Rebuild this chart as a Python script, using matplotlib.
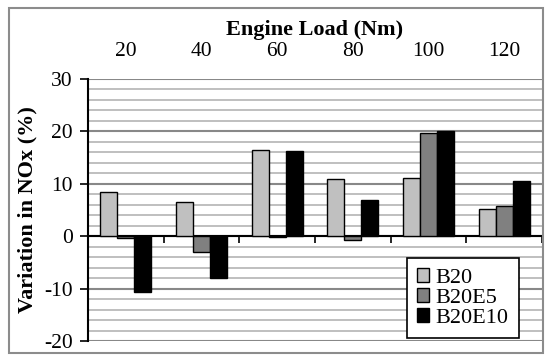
import numpy as np
import matplotlib.pyplot as plt
from matplotlib.patches import Rectangle

plt.rcParams['font.family'] = 'Liberation Serif'
plt.rcParams['axes.unicode_minus'] = False

loads = ['20', '40', '60', '80', '100', '120']
b20 = [8.4, 6.5, 16.5, 11.0, 11.2, 5.2]
b20e5 = [-0.3, -3.0, -0.1, -0.8, 19.7, 5.8]
b20e10 = [-10.6, -8.0, 16.3, 7.0, 20.1, 10.6]

series = [('B20', b20, '#c0c0c0'), ('B20E5', b20e5, '#808080'), ('B20E10', b20e10, '#000000')]

fig = plt.figure(figsize=(5.5, 3.61), dpi=100)
ax = fig.add_axes([88/550, 1-341/361, 454/550, (341-79)/361])

# outer frame
fig.patches.append(Rectangle((9/550, 1-353/361), 534/550, 345/361, transform=fig.transFigure,
                             fill=False, edgecolor='#8c8c8c', linewidth=1.5))

x = np.arange(len(loads))
w = 0.225
for i, (name, vals, col) in enumerate(series):
    ax.bar(x + (i-1)*w, vals, w, color=col, edgecolor='black', linewidth=1.0, label=name, zorder=3)

ax.set_xlim(-0.5, len(loads)-0.5)
ax.set_ylim(-20, 30)
ax.set_yticks(np.arange(-20, 31, 10))
ax.set_yticks(np.arange(-20, 31, 2), minor=True)
ax.grid(axis='y', which='major', color='#888888', linewidth=1.5, zorder=0)
ax.grid(axis='y', which='minor', color='#b4b4b4', linewidth=1.2, zorder=0)
ax.tick_params(axis='y', which='minor', length=0)
ax.tick_params(axis='y', which='major', direction='out', length=6, width=1.2, labelsize=15.5, pad=5)

ax.spines['top'].set_visible(False)
ax.spines['right'].set_visible(False)
ax.spines['left'].set_linewidth(1.5)
ax.spines['bottom'].set_position(('data', 0))
ax.spines['bottom'].set_linewidth(1.5)
ax.set_xticks(x + 0.5)
ax.set_xticklabels([])
ax.tick_params(axis='x', direction='out', length=5, width=1.2)

top = ax.secondary_xaxis('top')
top.set_xticks(x)
top.set_xticklabels(loads)
top.tick_params(length=0, labelsize=15.5, pad=13)
top.spines['top'].set_visible(False)
top.set_xlabel('Engine Load (Nm)', fontweight='bold', fontsize=16, labelpad=5)

ax.set_ylabel('Variation in NOx (%)', fontweight='bold', fontsize=16, labelpad=5)

leg = ax.legend(loc='lower right', bbox_to_anchor=(0.949, 0.0115), fontsize=16, frameon=True,
                fancybox=False, edgecolor='black', framealpha=1, handlelength=0.55, handleheight=0.55,
                handletextpad=0.3, labelspacing=0.02, borderpad=0.45, borderaxespad=0)
leg.get_frame().set_linewidth(1.2)
leg.set_zorder(5)

fig.savefig('out.png', dpi=100)
